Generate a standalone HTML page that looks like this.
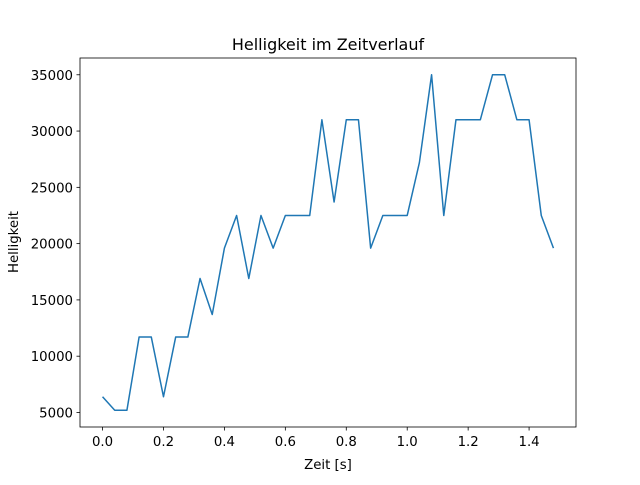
<!DOCTYPE html>
<html><head><meta charset="utf-8"><style>
body{margin:0;background:#fff;font-family:"Liberation Sans","DejaVu Sans",sans-serif;}
svg text{font-family:"DejaVu Sans","Liberation Sans",sans-serif;font-size:13.3px;fill:#000;}
</style></head><body>
<svg id="chart" width="640" height="480">
<rect width="640" height="480" fill="#fff"/>
<text x="328" y="50" text-anchor="middle" style="font-size:16px">Helligkeit im Zeitverlauf</text>
<g id="plot"></g>
<rect x="80" y="58" width="496" height="369" fill="none" stroke="#000" stroke-width="0.8"/>
<text x="328" y="469" text-anchor="middle">Zeit [s]</text>
<text transform="translate(18,242) rotate(-90)" text-anchor="middle">Helligkeit</text>
</svg>
<script>
const times=[0,0.04,0.08,0.12,0.16,0.20,0.24,0.28,0.32,0.36,0.40,0.44,0.48,0.52,0.56,0.60,0.64,0.68,0.72,0.76,0.80,0.84,0.88,0.92,0.96,1.00,1.04,1.08,1.12,1.16,1.20,1.24,1.28,1.32,1.36,1.40,1.44,1.48];
const brightness=[6400,5200,5200,11700,11700,6400,11700,11700,16900,13700,19600,22500,16900,22500,19600,22500,22500,22500,31000,23700,31000,31000,19600,22500,22500,22500,27200,35000,22500,31000,31000,31000,35000,35000,31000,31000,22500,19600];
const xTicks=[0,0.2,0.4,0.6,0.8,1.0,1.2,1.4];
const xTickLabels=["0.0","0.2","0.4","0.6","0.8","1.0","1.2","1.4"];
const yTicks=[5000,10000,15000,20000,25000,30000,35000];

const L=80,R=576,T=58,B=427;
const xmin0=Math.min(...times),xmax0=Math.max(...times),xp=(xmax0-xmin0)*0.05;
const ymin0=Math.min(...brightness),ymax0=Math.max(...brightness),yp=(ymax0-ymin0)*0.05;
const x=v=>L+(v-(xmin0-xp))/((xmax0+xp)-(xmin0-xp))*(R-L);
const y=v=>B-(v-(ymin0-yp))/((ymax0+yp)-(ymin0-yp))*(B-T);
const NS="http://www.w3.org/2000/svg";
const g=document.getElementById('plot');
function mk(t,a){const e=document.createElementNS(NS,t);for(const k in a)e.setAttribute(k,a[k]);g.appendChild(e);return e;}
xTicks.forEach((v,i)=>{
  const l=mk('line',{x1:x(v),x2:x(v),y1:B,y2:B+3.5,stroke:'#000','stroke-width':0.8});
  
  
  const t=mk('text',{x:x(v),y:B+19,'text-anchor':'middle'});t.textContent=xTickLabels[i];
  
  
});
yTicks.forEach(v=>{
  const l=mk('line',{x1:L-3.5,x2:L,y1:y(v),y2:y(v),stroke:'#000','stroke-width':0.8});
  
  
  const t=mk('text',{x:L-7,y:y(v)+5,'text-anchor':'end'});t.textContent=String(v);
  
  
});
const pts=times.map((t,i)=>x(t).toFixed(2)+','+y(brightness[i]).toFixed(2)).join(' ');
const line=mk('polyline',{points:pts,fill:'none',stroke:'#1f77b4','stroke-width':1.5,'stroke-linejoin':'round'});


</script>
</body></html>
